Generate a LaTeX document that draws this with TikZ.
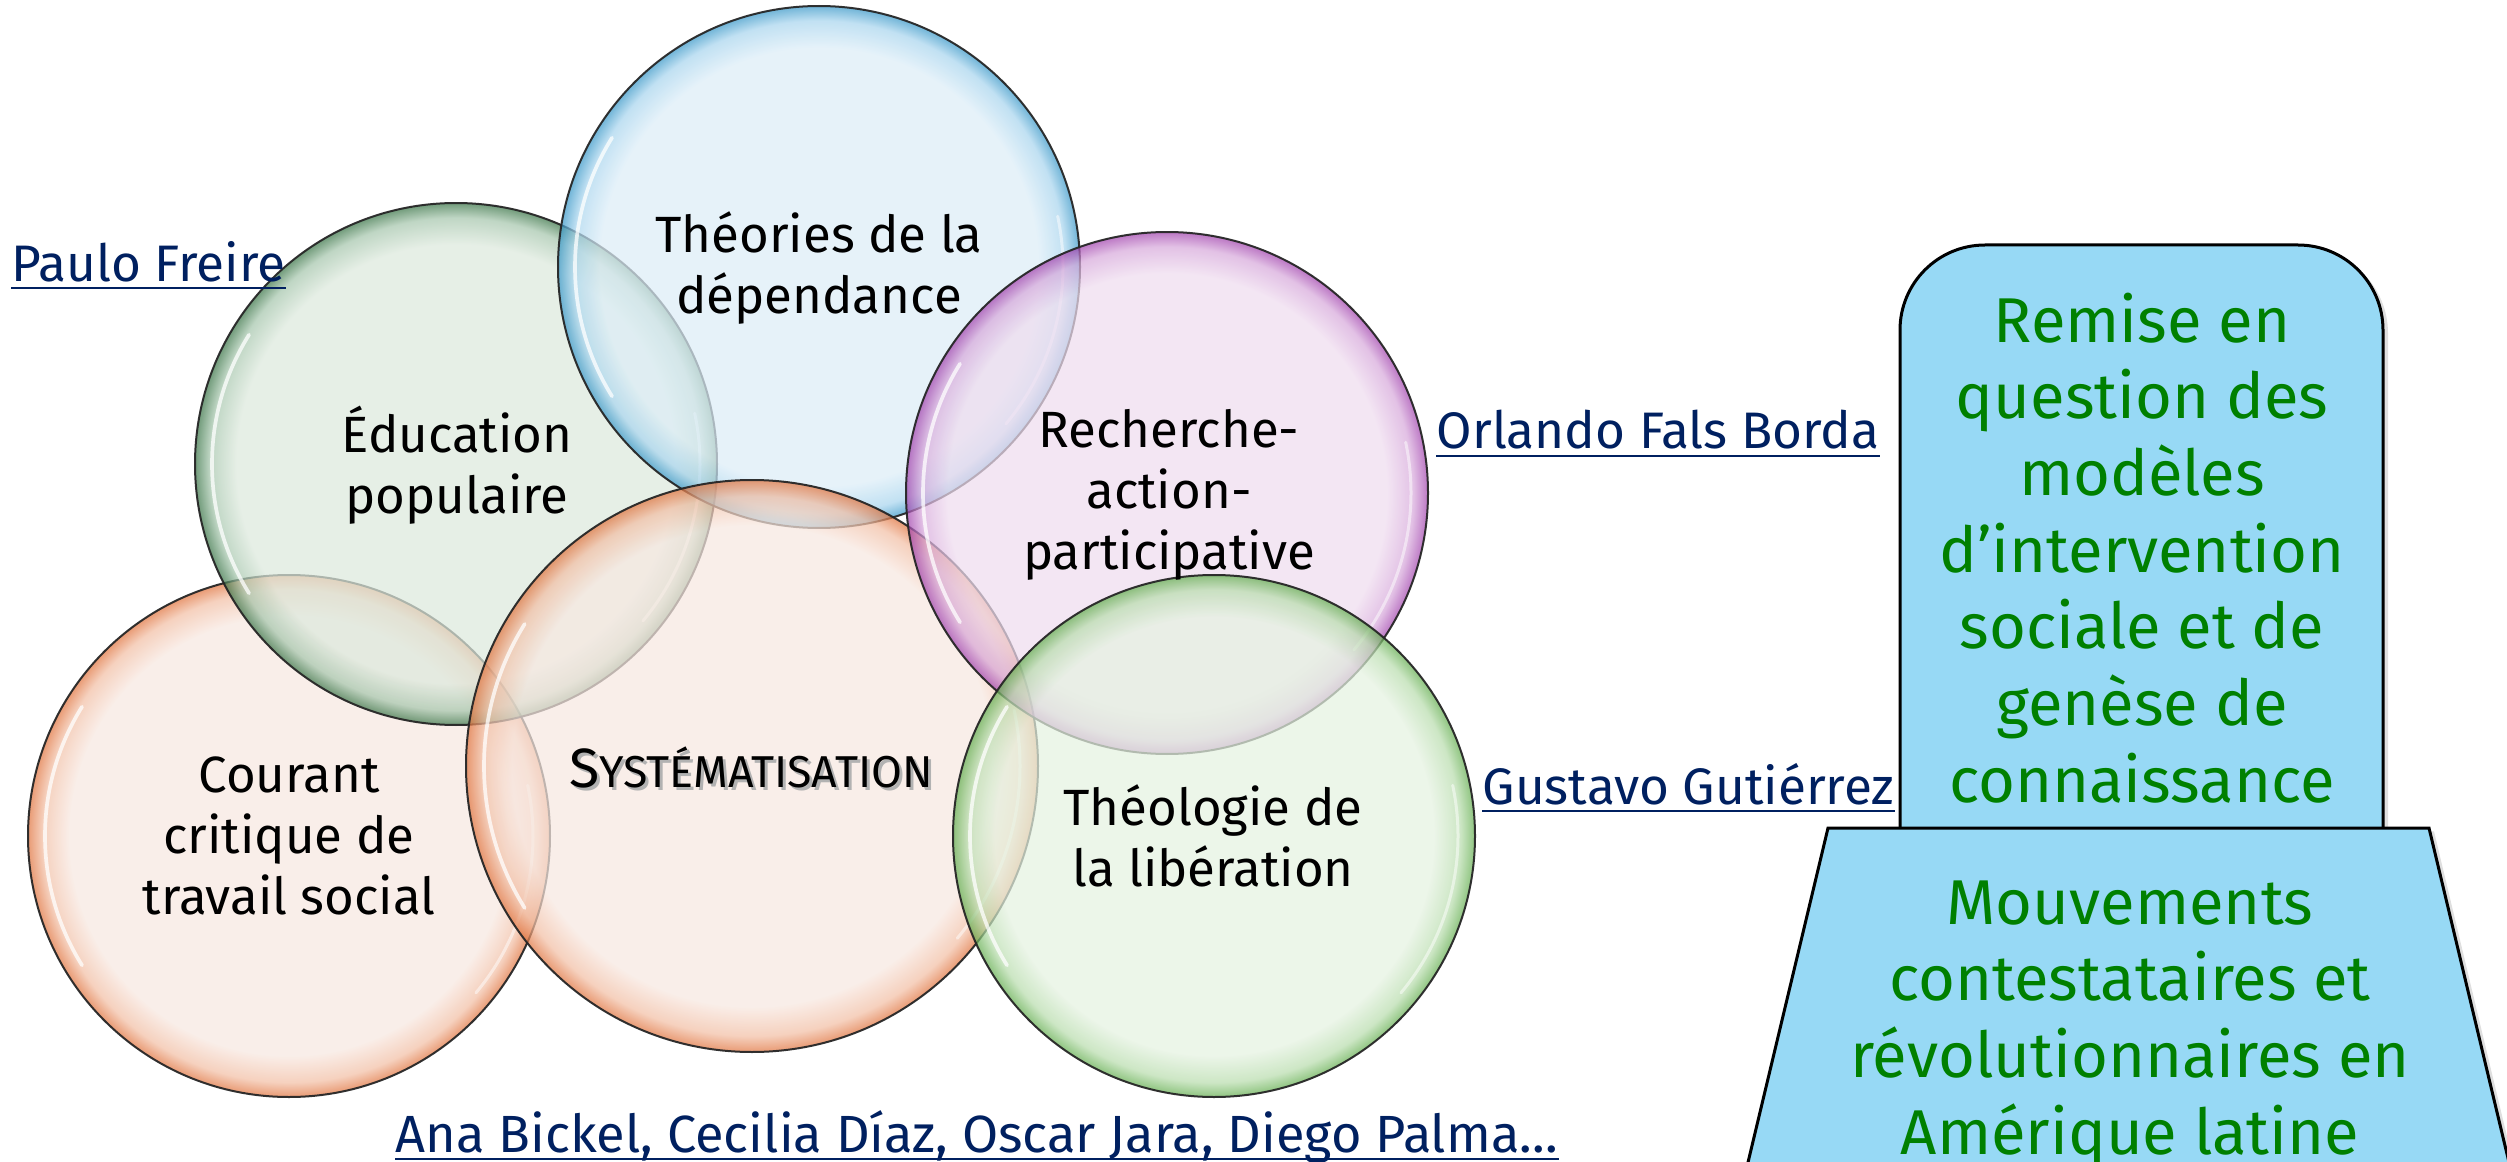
\documentclass[tikz,border=0pt]{standalone}
\usepackage{fontspec}
\setmainfont{Fira Sans}
\usetikzlibrary{shadows}

\definecolor{linkblue}{HTML}{002060}
\definecolor{boxblue}{HTML}{97D9F5}
\definecolor{boxgreen}{HTML}{008000}

\newcommand\declbubble[4]{%
  \definecolor{#1in}{HTML}{#2}\definecolor{#1mid}{HTML}{#3}\definecolor{#1edge}{HTML}{#4}%
  \pgfdeclareradialshading{#1}{\pgfpoint{0bp}{0bp}}{color(0bp)=(#1in); color(21bp)=(#1in); color(23.6bp)=(#1mid); color(25bp)=(#1edge); color(50bp)=(#1edge)}}
\declbubble{bblue}{DCEDF7}{A9D5EE}{3A98C8}
\declbubble{bdgreen}{DDE9DD}{A6C6AD}{3B7548}
\declbubble{bpurple}{EFDDEF}{D7A9DB}{A244AE}
\declbubble{borange}{F7E8E1}{F2BFA5}{E0743F}
\declbubble{blgreen}{E5F2E1}{B9DDAE}{64AE50}

\newcommand\bubhl[2]{%
  \draw[hlA] ([shift={(148:#2)}]#1.center) arc[start angle=148, end angle=212, radius=#2];
  \draw[hlB] ([shift={(-40:#2)}]#1.center) arc[start angle=-40, end angle=12, radius=#2];}
\newcommand\linkline[1]{%
  \draw[linkblue, line width=0.6pt] ([yshift=-2pt]#1.base west) -- ([yshift=-2pt]#1.base east);}

\begin{document}
\begin{tikzpicture}[x=0.3pt,y=0.3pt,
  bub/.style={circle, shade, shading=#1, draw=black!85, line width=0.6pt,
    inner sep=0pt, minimum size=156.6pt, fill opacity=0.72, draw opacity=0.95},
  hlA/.style={white, line width=1.1pt, opacity=0.75, line cap=round},
  hlB/.style={white, line width=0.9pt, opacity=0.5, line cap=round},
  lab/.style={align=center, inner sep=0pt, text=black, font=\fontsize{15.3}{18.3}\selectfont},
  link/.style={anchor=west, inner sep=0pt, text=linkblue, font=\fontsize{15.4}{18}\selectfont},
  boxshape/.style={fill=boxblue, draw=black, line width=0.9pt,
    drop shadow={shadow xshift=1.5pt, shadow yshift=-1pt, opacity=0.25}},
  boxtext/.style={align=center, inner sep=0pt, text=boxgreen, font=\fontsize{19}{23}\selectfont}]
\useasboundingbox (0,0) rectangle (2507,-1162);

% bubbles
\node[bub=borange] (c-cour) at (289,-836) {};
\bubhl{c-cour}{244}
\node[bub=bdgreen] (c-educ) at (456,-464) {};
\bubhl{c-educ}{244}
\node[bub=bblue] (c-theo) at (819,-267) {};
\bubhl{c-theo}{244}
\node[bub=borange, minimum size=171.6pt] (c-syst) at (752,-766) {};
\bubhl{c-syst}{268}
\node[bub=bpurple] (c-rech) at (1167,-493) {};
\bubhl{c-rech}{244}
\node[bub=blgreen] (c-theol) at (1214,-836) {};
\bubhl{c-theol}{244}

% labels
\node[lab] (t-theo) at (819,-268) {Théories de la\\dépendance};
\node[lab] (t-educ) at (457,-465) {Éducation\\populaire};
\node[lab] (t-rech) at (1169,-495) {Recherche-\\action-\\participative};
\node[lab] (t-cour) at (289,-836) {Courant\\critique de\\travail social};
\node[lab] (t-theol) at (1213,-836) {Théologie de\\la libération};
\node[lab, text=black!30] (t-syst-shadow) at (754,-770) {{\fontsize{16.6}{18}\selectfont S}{\fontsize{13.4}{18}\selectfont YSTÉMATISATION}};
\node[lab] (t-syst) at (751,-767) {{\fontsize{16.6}{18}\selectfont S}{\fontsize{13.4}{18}\selectfont YSTÉMATISATION}};

% links
\node[link] (l-freire) at (11,-262) {Paulo Freire};
\node[link] (l-fals) at (1436,-430) {Orlando Fals Borda};
\node[link] (l-gut) at (1482,-784) {Gustavo Gutiérrez};
\node[link, font=\fontsize{15.7}{18}\selectfont] (l-ana) at (395,-1137) {Ana Bickel, Cecilia Díaz, Oscar Jara, Diego Palma…};
\linkline{l-freire}
\linkline{l-fals}
\linkline{l-gut}
\linkline{l-ana}

% right shapes
\path[boxshape, rounded corners=25.5pt] (1900,-870) -- (1900,-245) -- (2383,-245) -- (2383,-870);
\path[boxshape] (1828,-828) -- (2429,-828) -- (2518,-1200) -- (1739,-1200) -- cycle;
\node[boxtext] (t-remise) at (2142,-548) {Remise en\\question des\\modèles\\d’intervention\\sociale et de\\genèse de\\connaissance};
\node[boxtext] (t-mouv) at (2130,-1024) {Mouvements\\contestataires et\\révolutionnaires en\\Amérique latine};
\end{tikzpicture}
\end{document}
